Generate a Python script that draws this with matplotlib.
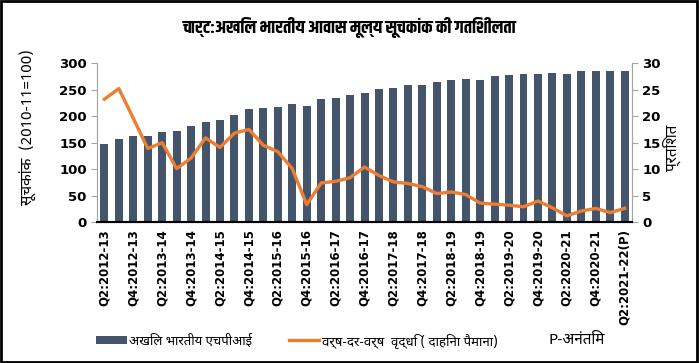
import matplotlib
matplotlib.use("Agg")
import matplotlib.pyplot as plt
from matplotlib import font_manager
import numpy as np

quarters = [
    "Q2:2012-13", "Q3:2012-13", "Q4:2012-13", "Q1:2013-14", "Q2:2013-14", "Q3:2013-14",
    "Q4:2013-14", "Q1:2014-15", "Q2:2014-15", "Q3:2014-15", "Q4:2014-15", "Q1:2015-16",
    "Q2:2015-16", "Q3:2015-16", "Q4:2015-16", "Q1:2016-17", "Q2:2016-17", "Q3:2016-17",
    "Q4:2016-17", "Q1:2017-18", "Q2:2017-18", "Q3:2017-18", "Q4:2017-18", "Q1:2018-19",
    "Q2:2018-19", "Q3:2018-19", "Q4:2018-19", "Q1:2019-20", "Q2:2019-20", "Q3:2019-20",
    "Q4:2019-20", "Q1:2020-21", "Q2:2020-21", "Q3:2020-21", "Q4:2020-21", "Q1:2021-22",
    "Q2:2021-22(P)",
]
hpi = [147, 156, 162, 162, 170, 172, 181, 189, 192, 203, 213, 216, 218, 223, 219, 233,
       234, 240, 243, 251, 253, 258, 258, 265, 268, 271, 268, 276, 277, 279, 279, 281,
       279, 286, 286, 286, 286]
yoy = [23.2, 25.2, 19.6, 13.9, 15.0, 10.1, 12.1, 15.9, 14.1, 16.8, 17.5, 14.5, 13.3,
       10.1, 3.3, 7.4, 7.7, 8.4, 10.4, 8.8, 7.6, 7.3, 6.7, 5.4, 5.7, 5.2, 3.6, 3.4,
       3.2, 2.9, 4.0, 2.7, 1.2, 2.1, 2.6, 1.8, 2.6]

BAR_COLOR = "#44546A"
LINE_COLOR = "#ED7D31"
AXIS_GRAY = "#A6A6A6"

# first Devanagari families that are installed
installed = {f.name for f in font_manager.fontManager.ttflist}
def pick(names):
    return next((n for n in names if n in installed), "DejaVu Sans")

hindi = pick(["Noto Sans Devanagari", "Hind", "Mukta", "FreeSans"])
hindi_title = pick(["Khand", "Teko", "Akshar", hindi])
plt.rcParams["font.family"] = [hindi, "DejaVu Sans"]
LATIN = "DejaVu Sans"

fig = plt.figure(figsize=(6.99, 3.63), dpi=100)
ax = fig.add_axes([0.139, 0.388, 0.765, 0.438])
ax2 = ax.twinx()

x = np.arange(len(quarters))
ax.bar(x, hpi, width=0.55, color=BAR_COLOR, label="अखिल भारतीय एचपीआई")
ax2.plot(x, yoy, color=LINE_COLOR, linewidth=2.4,
         label="वर्ष-दर-वर्ष  वृद्धि ( दाहिना पैमाना)")

ax.set_xlim(-0.5, len(quarters) - 0.5)
ax.set_ylim(0, 300)
ax2.set_ylim(0, 30)
ax.set_yticks(range(0, 301, 50))
ax2.set_yticks(range(0, 31, 5))
ax.set_xticks(x[::2])
ax.set_xticklabels(quarters[::2], rotation=90, fontsize=8.5, fontweight="bold",
                   family=LATIN)
ax.tick_params(axis="x", length=0, pad=5)
for a in (ax, ax2):
    a.tick_params(axis="y", labelsize=9.5, length=4, color=AXIS_GRAY, width=0.8)
    for lab in a.get_yticklabels():
        lab.set_fontweight("bold")
        lab.set_family(LATIN)
    a.spines["top"].set_visible(False)
    a.spines["left"].set_color(AXIS_GRAY)
    a.spines["right"].set_color(AXIS_GRAY)
    a.spines["bottom"].set_color("black")
    a.spines["bottom"].set_linewidth(1.5)

ax.set_ylabel("सूचकांक  (2010-11=100)", fontsize=11)
ax.yaxis.set_label_coords(-0.112, 0.6)
ax2.set_ylabel("प्रतिशत", fontsize=11, rotation=90)
ax2.yaxis.set_label_coords(1.058, 0.465)

fig.suptitle("चार्ट:अखिल भारतीय आवास मूल्य सूचकांक की गतिशीलता", y=0.923, va="center",
             fontsize=13, fontweight="bold", family=[hindi_title, hindi])

h1, l1 = ax.get_legend_handles_labels()
h2, l2 = ax2.get_legend_handles_labels()
fig.legend(h1 + h2, l1 + l2, loc="center", bbox_to_anchor=(0.425, 0.063), ncol=2,
           frameon=False, fontsize=9.5, handlelength=2.3, handleheight=0.5,
           handletextpad=0.2, columnspacing=2.8)
fig.text(0.784, 0.063, "P-अनंतिम", fontsize=11, va="center")

fig.patches.append(plt.Rectangle((0.002, 0.003), 0.995, 0.993, transform=fig.transFigure,
                                 fill=False, edgecolor="black", linewidth=2))

fig.savefig("out.png", dpi=100)
